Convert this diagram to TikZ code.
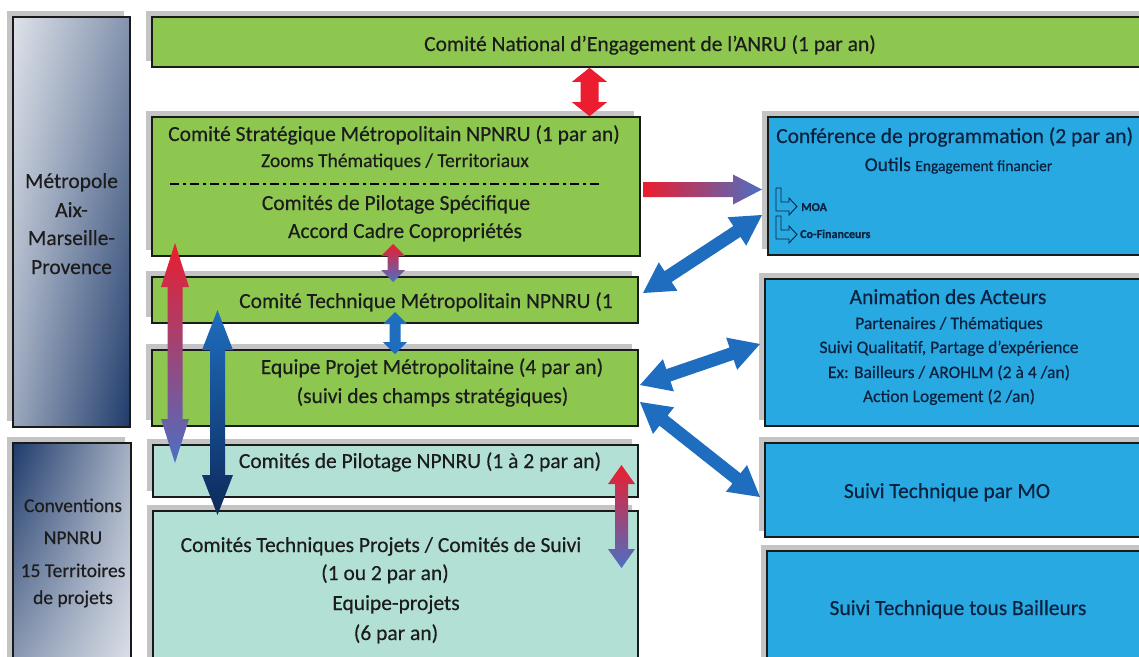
\documentclass[tikz,border=0pt]{standalone}
\usepackage{fontspec}
\setmainfont{Carlito}[FakeBold=0.4]
\usetikzlibrary{calc,shadows,shadings}

\definecolor{anrugreen}{HTML}{8DC74F}
\definecolor{pilotteal}{HTML}{B2E0D5}
\definecolor{confblue}{HTML}{29A9E1}
\definecolor{metroblue}{HTML}{1F3B6B}
\definecolor{arrowred}{HTML}{EB1D2E}
\definecolor{arrowblue}{HTML}{1E6DBF}
\definecolor{arrowmauve}{HTML}{4C6FC4}
\definecolor{arrownavy}{HTML}{0D2A5A}
\definecolor{boxline}{HTML}{1A1A1A}
\definecolor{shadowgrey}{HTML}{C4C4C4}
\definecolor{txtgreen}{HTML}{1C1C1C}
\definecolor{txtblue}{HTML}{0B2140}

\newcommand{\fbig}{\fontsize{21.5}{24}\selectfont}
\newcommand{\fmid}{\fontsize{19.5}{22}\selectfont}
\newcommand{\fsub}{\fontsize{17.5}{20}\selectfont}
\newcommand{\fsml}{\fontsize{15.5}{18}\selectfont}
\newcommand{\ftny}{\fontsize{12}{14}\selectfont}

\tikzset{
  fat shaft/.store in=\fatshaft, fat head/.store in=\fathead, fat len/.store in=\fatlen,
  fat shaft=6pt, fat head=17pt, fat len=30pt,
  fatboth/.style={to path={
    let \p1=($(\tikztostart)!\fatlen!(\tikztotarget)$),
        \p2=($(\tikztotarget)!\fatlen!(\tikztostart)$) in
    -- ($(\p1)!\fathead!-90:(\tikztotarget)$) -- ($(\p1)!\fatshaft!-90:(\tikztotarget)$)
    -- ($(\p2)!\fatshaft!90:(\tikztostart)$) -- ($(\p2)!\fathead!90:(\tikztostart)$)
    -- (\tikztotarget)
    -- ($(\p2)!\fathead!-90:(\tikztostart)$) -- ($(\p2)!\fatshaft!-90:(\tikztostart)$)
    -- ($(\p1)!\fatshaft!90:(\tikztotarget)$) -- ($(\p1)!\fathead!90:(\tikztotarget)$)
    -- cycle}},
  fatone/.style={to path={
    let \p2=($(\tikztotarget)!\fatlen!(\tikztostart)$) in
    ($(\tikztostart)!\fatshaft!-90:(\tikztotarget)$)
    -- ($(\p2)!\fatshaft!90:(\tikztostart)$) -- ($(\p2)!\fathead!90:(\tikztostart)$)
    -- (\tikztotarget)
    -- ($(\p2)!\fathead!-90:(\tikztostart)$) -- ($(\p2)!\fatshaft!-90:(\tikztostart)$)
    -- ($(\tikztostart)!\fatshaft!90:(\tikztotarget)$) -- cycle}},
  box/.style={draw=boxline, line width=1.6pt, inner sep=0pt,
    general shadow={fill=shadowgrey, shadow xshift=-6pt, shadow yshift=6pt}},
  greenbox/.style={box, fill=anrugreen},
  tealbox/.style={box, fill=pilotteal},
  bluebox/.style={box, fill=confblue},
  lbl/.style={inner sep=0pt, anchor=base, text=txtgreen, font=\fbig},
  blbl/.style={lbl, text=txtblue},
}

\begin{document}
\begin{tikzpicture}[x=1pt,y=-1pt,line join=miter]
\useasboundingbox (0,0) rectangle (1139,656);
\clip (0,0) rectangle (1139,656);
%%
\node (metro) at (71.5,222) [box, minimum width=117pt, minimum height=410pt,
  upper left=white!85!metroblue, upper right=metroblue!55, lower left=metroblue!45, lower right=metroblue] {};
\node (conv) at (72,556.5) [box, minimum width=118pt, minimum height=227pt,
  upper left=metroblue, upper right=metroblue!40, lower left=metroblue!50, lower right=white!85!metroblue] {};
\node (anru) at (656,42) [greenbox, minimum width=1008pt, minimum height=50pt] {};
\node (strat) at (396,186.5) [greenbox, minimum width=488pt, minimum height=139pt] {};
\node (tech) at (395,300) [greenbox, minimum width=486pt, minimum height=46pt] {};
\node (equipe) at (395,388) [greenbox, minimum width=486pt, minimum height=76pt] {};
\node (pilot) at (395.5,471) [tealbox, minimum width=485pt, minimum height=52pt] {};
\node (ctp) at (395.5,590.5) [tealbox, minimum width=485pt, minimum height=159pt] {};
\node (conf) at (964,186) [bluebox, minimum width=392pt, minimum height=138pt] {};
\node (anim) at (962.5,352.5) [bluebox, minimum width=395pt, minimum height=147pt] {};
\node (suivimo) at (962.5,490) [bluebox, minimum width=395pt, minimum height=94pt] {};
\node (suivib) at (963.5,610.5) [bluebox, minimum width=393pt, minimum height=119pt] {};
%%
\node (metro1) at (71.5,188) [lbl] {Métropole};
\node (metro2) at (71.5,217) [lbl] {Aix-};
\node (metro3) at (71.5,245) [lbl] {Marseille-};
\node (metro4) at (71.5,274) [lbl] {Provence};
\node (conv1) at (73,512) [lbl, font=\fmid] {Conventions};
\node (conv2) at (73,544) [lbl, font=\fmid] {NPNRU};
\node (conv3) at (73,577) [lbl, font=\fmid] {15 Territoires};
\node (conv4) at (73,604) [lbl, font=\fmid] {de projets};
\node (anrut) at (650,51) [lbl] {Comité National d’Engagement de l’ANRU (1 par an)};
\node (strat1) at (394,141) [lbl] {Comité Stratégique Métropolitain NPNRU (1 par an)};
\node (strat2) at (395,167) [lbl, font=\fmid] {Zooms Thématiques / Territoriaux};
\node (strat3) at (396,210) [lbl] {Comités de Pilotage Spécifique};
\node (strat4) at (405,238) [lbl] {Accord Cadre Copropriétés};
\draw [line width=2pt, dash pattern=on 9pt off 4pt on 3pt off 4pt] (170,184) -- (602,184);
\node (tech1) at (426,308) [lbl] {Comité Technique Métropolitain NPNRU (1};
\node (equipe1) at (432,374) [lbl] {Equipe Projet Métropolitaine (4 par an)};
\node (equipe2) at (432.5,403) [lbl] {(suivi des champs stratégiques)};
\node (pilot1) at (420,468) [lbl] {Comités de Pilotage NPNRU (1 à 2 par an)};
\node (ctp1) at (381,552) [lbl] {Comités Techniques Projets / Comités de Suivi};
\node (ctp2) at (385,580) [lbl] {(1 ou 2 par an)};
\node (ctp3) at (396,610) [lbl] {Equipe-projets};
\node (ctp4) at (396,640) [lbl] {(6 par an)};
\node (conf1) at (776,143) [blbl, anchor=base west] {Conférence de programmation (2 par an)};
\node (conf2) at (958.5,171) [blbl, font=\fmid] {Outils {\fsml Engagement financier}};
\node (conf3) at (801,211) [blbl, anchor=base west, font=\ftny\bfseries] {MOA};
\node (conf4) at (800,238) [blbl, anchor=base west, font=\ftny\bfseries] {Co-Financeurs};
\draw [txtblue, line width=0.9pt] (776,188) -- (776,211) -- (789,211) -- (789,215) -- (797,206.5)
  -- (789,198) -- (789,202) -- (781,202) -- (781,188) -- cycle;
\draw [txtblue, line width=0.9pt] (776,216) -- (776,239) -- (789,239) -- (789,243) -- (797,234.5)
  -- (789,226) -- (789,230) -- (781,230) -- (781,216) -- cycle;
\node (anim1) at (948,304) [blbl] {Animation des Acteurs};
\node (anim2) at (949,329) [blbl, font=\fsub] {Partenaires / Thématiques};
\node (anim3) at (949,353) [blbl, font=\fsub] {Suivi Qualitatif, Partage d’expérience};
\node (anim4) at (949,378) [blbl, font=\fsub] {Ex: Bailleurs / AROHLM (2 à 4 /an)};
\node (anim5) at (949,402) [blbl, font=\fsub] {Action Logement (2 /an)};
\node (suivimo1) at (947,498) [blbl] {Suivi Technique par MO};
\node (suivib1) at (958,615) [blbl] {Suivi Technique tous Bailleurs};
%% arrow ends
\coordinate (ar1a) at (anru.south -| 589.5,0);
\coordinate (ar1b) at (strat.north -| 589.5,0);
\coordinate (ar2a) at (643,189.5);
\coordinate (ar2b) at (762,189.5);
\coordinate (ar3a) at (643,293);
\coordinate (ar3b) at (762,215);
\coordinate (ar4a) at (640,385);
\coordinate (ar4b) at (760,344);
\coordinate (ar5a) at (640,402);
\coordinate (ar5b) at (760,497);
\coordinate (ar6a) at (393,244);
\coordinate (ar6b) at (393,282);
\coordinate (ar7a) at (395,312);
\coordinate (ar7b) at (395,354);
\coordinate (ar8a) at (175,243);
\coordinate (ar8b) at (175,463);
\coordinate (ar9a) at (217.5,310);
\coordinate (ar9b) at (217.5,515);
\coordinate (ar10a) at (621.5,465);
\coordinate (ar10b) at (621.5,568);
%%
\path [fill=arrowred, fat shaft=9pt, fat head=17.5pt, fat len=14pt] (ar1a) to[fatboth] (ar1b);
\path [left color=arrowred, right color=arrowmauve, fat shaft=7.5pt, fat head=15pt, fat len=29pt] (ar2a) to[fatone] (ar2b);
\path [fill=arrowblue, fat shaft=6.5pt, fat head=17pt, fat len=30pt] (ar3a) to[fatboth] (ar3b);
\path [fill=arrowblue, fat shaft=6.5pt, fat head=17pt, fat len=30pt] (ar4a) to[fatboth] (ar4b);
\path [fill=arrowblue, fat shaft=6.5pt, fat head=17pt, fat len=30pt] (ar5a) to[fatboth] (ar5b);
\path [top color=arrowred, bottom color=arrowmauve, fat shaft=5.5pt, fat head=12pt, fat len=12pt] (ar6a) to[fatboth] (ar6b);
\path [fill=arrowblue, fat shaft=5.5pt, fat head=12pt, fat len=12pt] (ar7a) to[fatboth] (ar7b);
\path [top color=arrowred, bottom color=arrowmauve, fat shaft=7.5pt, fat head=14pt, fat len=44pt] (ar8a) to[fatboth] (ar8b);
\path [top color=arrowblue, bottom color=arrownavy, fat shaft=7.5pt, fat head=15.5pt, fat len=40pt] (ar9a) to[fatboth] (ar9b);
\path [top color=arrowred, bottom color=arrowmauve, fat shaft=6.5pt, fat head=13.5pt, fat len=19pt] (ar10a) to[fatboth] (ar10b);
%
\end{tikzpicture}
\end{document}
